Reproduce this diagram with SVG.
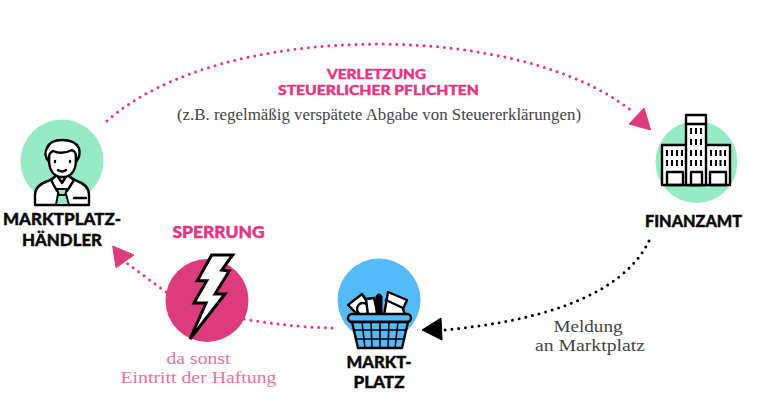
<svg xmlns="http://www.w3.org/2000/svg" width="762" height="418" viewBox="0 0 762 418">
<style>
.h{font-family:Lato,"Liberation Sans",sans-serif;font-weight:900;text-anchor:middle;stroke-width:.4;paint-order:stroke}
.n{font-size:16px;fill:#0a0a0a;stroke:#0a0a0a}
.p{font-size:13.500px;fill:#e8347f;stroke:#e8347f}
.s{font-family:"Liberation Serif",serif;text-anchor:middle;font-size:17.500px}
.k{fill:none;stroke:#000;stroke-width:2.4;stroke-linejoin:round;stroke-linecap:round}
.w{fill:#fff;stroke:#000;stroke-width:2.4;stroke-linejoin:round}
.dot{fill:none;stroke-width:3;stroke-linecap:round;stroke-dasharray:0 6.8}
</style>
<rect width="762" height="418" fill="#fff"/>
<g id="connectors">
<path class="dot" stroke="#e8347f" d="M107 121C220 20 520 20 633 112"/>
<path d="M644 108L650.700 130L629 124Z" fill="#dd3b7c" stroke="#dd3b7c" stroke-width="1"/>
<path class="dot" stroke="#000" d="M649 241C620 300 530 322 444 330"/>
<path d="M422 330L441 318L442 340Z" fill="#000" stroke="#000" stroke-linejoin="round"/>
<path class="dot" stroke="#e8347f" d="M332 328Q290 327 244 319"/>
<path class="dot" stroke="#e8347f" d="M166 292L126.700 263"/>
<path d="M112.700 246L134 255L116 267.700Z" fill="#dd3b7c" stroke="#dd3b7c" stroke-width="1"/>
</g>
<g id="haendler">
<circle cx="62" cy="161" r="41.500" fill="#96ebc6"/>
<path class="w" d="M35 205V195Q35 185 48 181L55 177H70L77 181Q89 185 89 195V205Z"/>
<path d="M58 194H66L69 205H56Z" fill="#96ebc6" stroke="#000" stroke-width="2" stroke-linejoin="round"/>
<path class="w" d="M51 180L57 175L62 183L67 175L74 180L67 191H57Z"/>
<path d="M57 189H67L65 195H59Z" fill="#96ebc6" stroke="#000" stroke-width="2"/>
<path class="w" d="M49 150V161Q50 177 62.500 177Q75 177 76 161V150Z"/>
<path d="M49 162Q43 155 47 148Q50 140 62 140Q75 140 79 148Q81 156 76 162V156Q76 152 72 150Q62 155 53 151Q49 153 49 157Z" fill="#fff" stroke="#000" stroke-width="2.400" stroke-linejoin="round"/>
<path class="k" d="M58 170Q62 173 66 170M55 161V162M70 161V162M74 198H86"/>
</g>
<g id="finanzamt">
<circle cx="696.500" cy="162" r="41" fill="#96ebc6"/>
<path class="w" d="M662 145H730V185H662Z"/>
<path class="w" d="M686 115H706V185H686Z"/>
<path class="k" d="M686 124H706M667 172H683V185H667ZM691 172H702V185H691ZM710 172H726V185H710Z"/>
<path d="M667 150v6M672 150v6M677 150v6M682 150v6M667 160v6M672 160v6M677 160v6M682 160v6M691 128v6M696 128v6M701 128v6M691 139v6M696 139v6M701 139v6M691 150v6M696 150v6M701 150v6M691 160v6M696 160v6M701 160v6M711 150v6M716 150v6M720.500 150v6M725 150v6M711 160v6M716 160v6M720.500 160v6M725 160v6" stroke="#000" stroke-width="2" fill="none"/>
</g>
<g id="marktplatz">
<circle cx="379" cy="300" r="41.500" fill="#55bbf8"/>
<path class="w" d="M348 305L362 294L376 315H358Z"/>
<circle cx="363" cy="309" r="6" class="w"/>
<path class="w" d="M366 299L374 298L378 315H368Z"/>
<path class="w" d="M388 292L407 300L403 309L405 315H384Z"/>
<path class="k" d="M386 300L403 308"/>
<path d="M376 296Q379 292 382 296V319Q379 322 376 319Z" fill="#000" stroke="#000"/>
<rect x="348" y="314" width="63" height="8" rx="4" fill="#55bbf8" stroke="#000" stroke-width="2.400"/>
<path d="M352 322L358 348H402L408 322Z" fill="#55bbf8" stroke="#000" stroke-width="2.400" stroke-linejoin="round"/>
<path d="M362 322L365 348M371 322L372 348M380 322V348M389 322L388 348M398 322L395 348M354 330H406M356 339H404" stroke="#000" stroke-width="1.600" fill="none"/>
</g>
<g id="sperrung">
<circle cx="207" cy="300.500" r="41.500" fill="#dd3b7c"/>
<path d="M211.700 255H232.700L221.700 270L229.300 271L215 294H225L190 339L206 303H194L206.700 280.700H197.300Z" fill="#fff" stroke="#000" stroke-width="3" stroke-linejoin="miter"/>
</g>
<text class="h n" x="62" y="225" textLength="118" lengthAdjust="spacingAndGlyphs">MARKTPLATZ-</text>
<text class="h n" x="62" y="246" textLength="80" lengthAdjust="spacingAndGlyphs">HÄNDLER</text>
<text class="h n" x="693.500" y="227" textLength="97" lengthAdjust="spacingAndGlyphs">FINANZAMT</text>
<text class="h n" x="379" y="368" textLength="65" lengthAdjust="spacingAndGlyphs">MARKT-</text>
<text class="h n" x="379" y="388" textLength="51" lengthAdjust="spacingAndGlyphs">PLATZ</text>
<text class="h p" x="376.500" y="79" textLength="99" lengthAdjust="spacingAndGlyphs">VERLETZUNG</text>
<text class="h p" x="378.500" y="95" textLength="201" lengthAdjust="spacingAndGlyphs">STEUERLICHER PFLICHTEN</text>
<text class="h p" x="218.500" y="238" style="font-size:16px" textLength="92" lengthAdjust="spacingAndGlyphs">SPERRUNG</text>
<text class="s" x="379" y="120" fill="#444" style="font-size:16px" textLength="404" lengthAdjust="spacingAndGlyphs">(z.B. regelmäßig verspätete Abgabe von Steuererklärungen)</text>
<text class="s" x="198.500" y="364" fill="#ee6fa0" textLength="64" lengthAdjust="spacingAndGlyphs">da sonst</text>
<text class="s" x="198.500" y="383" fill="#ee6fa0" textLength="156" lengthAdjust="spacingAndGlyphs">Eintritt der Haftung</text>
<text class="s" x="588" y="332" fill="#444" textLength="69" lengthAdjust="spacingAndGlyphs">Meldung</text>
<text class="s" x="590" y="351" fill="#444" textLength="110" lengthAdjust="spacingAndGlyphs">an Marktplatz</text>
</svg>
